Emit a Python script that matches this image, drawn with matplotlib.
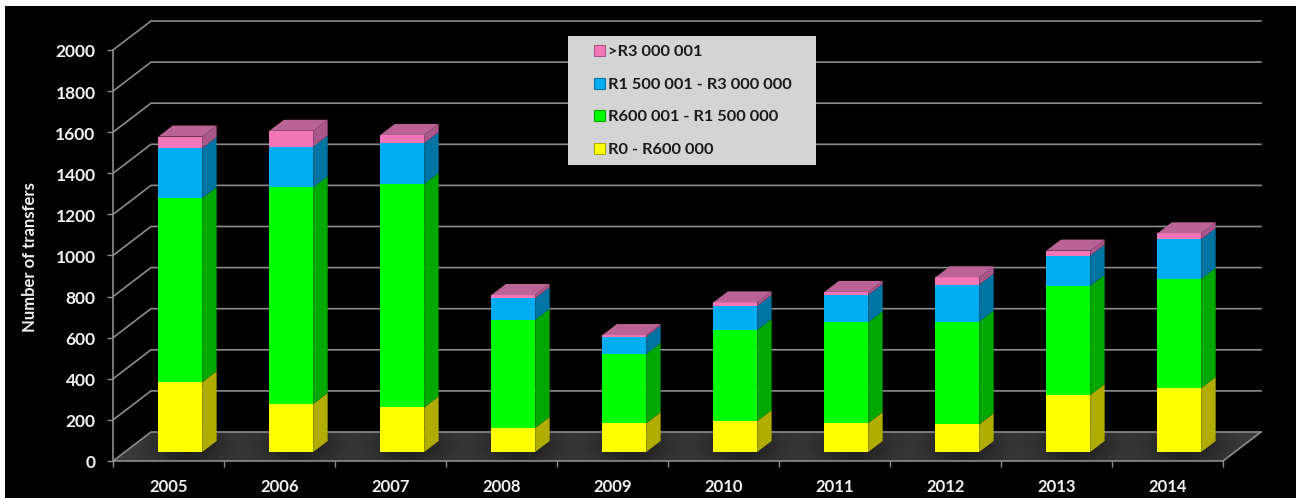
import numpy as np
import matplotlib
matplotlib.use("Agg")
import matplotlib.pyplot as plt
from matplotlib.patches import Polygon, Patch, Rectangle
from matplotlib.legend_handler import HandlerPatch
from matplotlib.transforms import ScaledTranslation

years = ["2005", "2006", "2007", "2008", "2009", "2010", "2011", "2012", "2013", "2014"]
band_0_600k = [340, 234, 217, 117, 140, 151, 141, 135, 277, 311]
band_600k_1500k = [895, 1054, 1087, 526, 337, 443, 490, 499, 531, 531]
band_1500k_3m = [243, 198, 198, 105, 84, 116, 133, 180, 147, 193]
band_over_3m = [57, 77, 41, 16, 8, 18, 15, 36, 25, 29]

bands = [band_0_600k, band_600k_1500k, band_1500k_3m, band_over_3m]
band_names = ["R0 - R600 000", "R600 001 - R1 500 000", "R1 500 001 - R3 000 000", ">R3 000 001"]
front_cols = ["#ffff00", "#00ff00", "#00adf2", "#f377b8"]
side_cols = ["#b0ac00", "#00a800", "#0075a3", "#a9568a"]
top_col = "#bb6396"
grid_col = "#8c8c8c"
text_col = "#f2f2f2"

# depth of the box, in x and y axis units
DX = 38 / 111
DY = 29 / 0.2055
BAR_W = 0.395
D0, D1 = 0.31, 0.69


def proj(x, v, d):
    return (x + d * DX, v + d * DY)


plt.rcParams["font.family"] = ["Lato", "DejaVu Sans"]
plt.rcParams["font.weight"] = "bold"

fig = plt.figure(figsize=(13.01, 4.98), dpi=100, facecolor="white")
fig.patches.append(Rectangle((5 / 1301, 0), 1291 / 1301, 492 / 498, transform=fig.transFigure,
                             facecolor="black", edgecolor="none", zorder=-1))
ax = fig.add_axes([113 / 1301, 37 / 498, 1110 / 1301, 411 / 498])
ax.patch.set_visible(False)

# floor with soft dark patches round the bar feet
gx, gy = np.meshgrid(np.linspace(0, 10 + DX, 700), np.linspace(0, DY, 60))
shade = np.full(gx.shape, 0.24)
for i in range(len(years)):
    cx = i + 0.5 + 0.5 * DX
    shade -= 0.12 * np.exp(-((gx - cx) / 0.36) ** 2 - ((gy - 0.5 * DY) / (0.75 * DY)) ** 2)
floor = Polygon([proj(0, 0, 0), proj(10, 0, 0), proj(10, 0, 1), proj(0, 0, 1)],
                transform=ax.transData, facecolor="none", edgecolor="none", clip_on=False)
ax.add_patch(floor)
img = ax.imshow(shade, extent=(0, 10 + DX, 0, DY), origin="lower", aspect="auto",
                cmap="gray", vmin=0, vmax=1, zorder=1)
img.set_clip_box(fig.bbox)
img.set_clip_path(floor)

# walls: diagonal from the axis to the back, then across
for v in range(0, 2001, 200):
    x0, y0 = proj(0, v, 0)
    x1, y1 = proj(0, v, 1)
    x2, y2 = proj(10, v, 1)
    ax.plot([x0, x1, x2], [y0, y1, y2], color=grid_col, lw=1.2, zorder=2, clip_on=False)
ax.plot(*zip(proj(10, 0, 0), proj(10, 0, 1)), color=grid_col, lw=1.2, zorder=2, clip_on=False)

# bars
xpos = np.arange(len(years)) + 0.5
bottom = np.zeros(len(years))
for vals, fc, sc in zip(bands, front_cols, side_cols):
    vals = np.array(vals, dtype=float)
    ax.bar(xpos + D0 * DX, vals, BAR_W, bottom=bottom + D0 * DY, color=fc, linewidth=0, zorder=4, clip_on=False)
    for x, b, h in zip(xpos, bottom, vals):
        r = x + BAR_W / 2
        ax.add_patch(Polygon([proj(r, b, D0), proj(r, b, D1), proj(r, b + h, D1), proj(r, b + h, D0)],
                             facecolor=sc, edgecolor="none", zorder=3, clip_on=False))
    bottom = bottom + vals
for x, t in zip(xpos, bottom):
    l, r = x - BAR_W / 2, x + BAR_W / 2
    ax.add_patch(Polygon([proj(l, t, D0), proj(r, t, D0), proj(r, t, D1), proj(l, t, D1)],
                         facecolor=top_col, edgecolor="none", zorder=4, clip_on=False))

# axes
ax.set_xlim(0, 10)
ax.set_ylim(0, 2000)
for s in ["top", "right"]:
    ax.spines[s].set_visible(False)
for s in ["left", "bottom"]:
    ax.spines[s].set_color(grid_col)
    ax.spines[s].set_linewidth(1.2)
    ax.spines[s].set_zorder(2)
ax.set_yticks(range(0, 2001, 200))
ax.set_xticks(range(0, 11))
ax.set_xticklabels([])
ax.set_xticks(np.arange(len(years)) + 0.5, labels=years, minor=True)
ax.tick_params(axis="y", length=4.5, width=1, color=grid_col, labelcolor=text_col, labelsize=12.5, pad=8)
ax.tick_params(axis="x", which="major", length=4.5, width=1, color=grid_col)
ax.tick_params(axis="x", which="minor", length=0, labelcolor=text_col, labelsize=12, pad=13)
down = ScaledTranslation(0, -0.7 / 72, fig.dpi_scale_trans)
for lab in ax.get_yticklabels():
    lab.set_transform(lab.get_transform() + down)
ax.set_ylabel("Number of transfers", color=text_col, fontsize=12, fontweight="bold")
ax.yaxis.set_label_coords(-75 / 1110, 0.495)


def square(legend, orig_handle, xdescent, ydescent, width, height, fontsize):
    return Rectangle((width - 8 - xdescent, (height - 8) / 2 - ydescent), 8, 8)


handles = [Patch(facecolor=c, edgecolor=s, linewidth=0.8) for c, s in zip(front_cols, side_cols)]
leg = ax.legend(handles[::-1], band_names[::-1], loc="upper left",
                bbox_to_anchor=(568 / 1301, 335 / 498, 248 / 1301, 127 / 498),
                bbox_transform=fig.transFigure, mode="expand", borderaxespad=0,
                fontsize=11.8, labelspacing=1.08, handlelength=1.78, handleheight=0.8,
                handletextpad=0.15, borderpad=0.5, fancybox=False, framealpha=1,
                facecolor="#d4d4d4", edgecolor="none",
                handler_map={Patch: HandlerPatch(patch_func=square)})
leg.set_zorder(6)
for t in leg.get_texts():
    t.set_color("#1a1a1a")

fig.savefig("out.png", dpi=100, facecolor=fig.get_facecolor())
